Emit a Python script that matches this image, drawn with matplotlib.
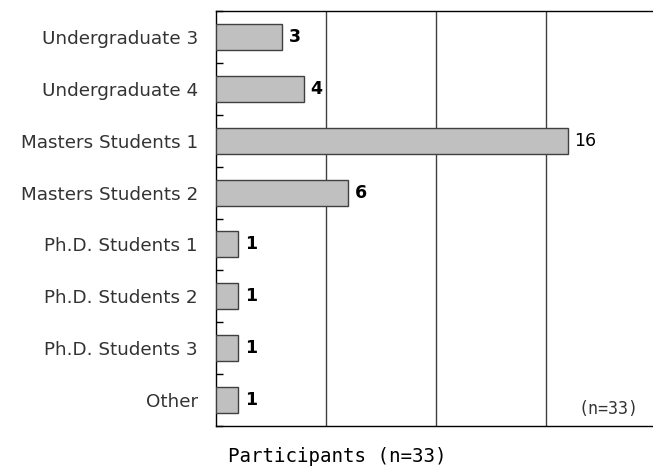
import matplotlib
matplotlib.use("Agg")
import matplotlib.pyplot as plt
import numpy as np

categories = ["Undergraduate 3", "Undergraduate 4", "Masters Students 1", "Masters Students 2",
              "Ph.D. Students 1", "Ph.D. Students 2", "Ph.D. Students 3", "Other"]
values = [3, 4, 16, 6, 1, 1, 1, 1]
xlabel = "Participants (n=33)"
note = "(n=33)"

fig = plt.figure(figsize=(6.53, 4.68), dpi=100)
ax = fig.add_axes([216/653, 1 - 426/468, (656-216)/653, (426-11)/468])

y = np.arange(len(categories))
ax.barh(y, values, height=0.5, color="#c0c0c0", edgecolor="#404040", linewidth=1.0, zorder=3)
for yi, v in zip(y, values):
    ax.text(v + 0.3, yi, str(v), va="center", ha="left", fontsize=12.5,
            fontweight="bold" if v < 10 else "normal", color="#000000",
            family="DejaVu Sans")

ax.set_xlim(0, 20)
ax.set_ylim(len(categories) - 0.5, -0.5)
ax.set_yticks(y)
ax.set_yticklabels(categories, fontsize=13.2, family="DejaVu Sans", color="#333333")
ax.tick_params(axis="y", which="major", length=0, pad=13)
ax.set_yticks(np.arange(len(categories) + 1) - 0.5, minor=True)
ax.tick_params(axis="y", which="minor", direction="in", length=5, width=1, color="#000000")
ax.set_xticks([5, 10, 15])
ax.set_xticklabels([])
ax.tick_params(axis="x", length=0)
ax.grid(axis="x", color="#404040", linewidth=1.0, zorder=1)
for s in ["left", "bottom", "top"]:
    ax.spines[s].set_color("#000000")
    ax.spines[s].set_linewidth(1.0)
ax.spines["right"].set_visible(False)

ax.text((638-216)/440, (426-409)/415, note, transform=ax.transAxes, ha="right", va="center",
        fontsize=12, family="DejaVu Sans Mono", color="#333333")
fig.text(337/653, 1 - 456/468, xlabel, ha="center", va="center",
         fontsize=13.8, family="DejaVu Sans Mono", color="#000000")

fig.savefig("out.png", dpi=100)
